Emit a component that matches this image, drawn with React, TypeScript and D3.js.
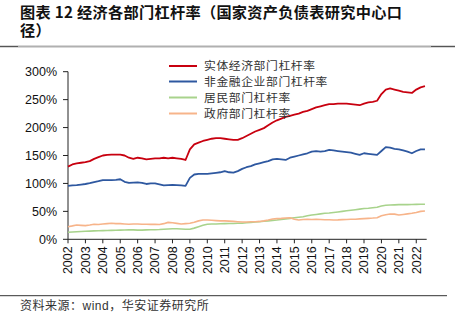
import React from "react";
import * as d3 from "d3";

const startYear = 2002;
const yearTicks = d3.range(2002, 2023);
const yTicks = [0, 50, 100, 150, 200, 250, 300];

const seriesNames = ["实体经济部门杠杆率", "非金融企业部门杠杆率", "居民部门杠杆率", "政府部门杠杆率"];
const seriesColors = ["#C8000F", "#2E58A0", "#A8D38C", "#F7B48A"];

const realEconomy = [
  130, 134, 136, 137, 138, 140, 144, 147, 150, 151, 151.5, 151.5,
  151.5, 150, 146, 144, 146, 145, 143, 144, 145, 145, 146, 145,
  146, 145, 144, 142, 161, 170, 173, 176, 178, 180, 181, 181,
  180, 179, 178, 178, 181, 185, 189, 193, 196, 199, 204, 209,
  213, 216, 219, 221, 223, 225, 228, 230, 233, 236, 238, 240,
  242, 242, 243, 243, 243, 242, 241, 240, 243, 245, 246, 248,
  260, 268, 270, 268, 266, 264, 263, 262, 268, 272, 274,
];
const nonFinancial = [
  95.5, 96.5, 97, 98, 99, 100.5, 102.5, 104, 106, 106, 106, 106.5,
  107.5, 103, 101, 101.5, 102, 101, 99, 100, 100, 98.5, 96.5, 97,
  97.5, 97, 96.5, 95.5, 110, 116, 117, 117, 117, 118, 119, 120,
  122, 120, 119.5, 122, 126, 129, 131, 134, 136, 138, 140, 143,
  144, 143, 142, 146, 148, 150, 152, 154, 157, 158, 157, 158,
  160, 159, 158, 157, 156, 155, 153, 151, 154, 153, 152, 151,
  158, 165, 164, 162, 161, 159, 157, 154, 158, 161, 161,
];
const household = [
  12.5, 13, 13.5, 14, 14.3, 14.6, 15, 15.3, 15.5, 15.8, 16, 16.2,
  16.4, 16.6, 16.8, 16.8, 16.5, 16.5, 16.8, 17, 17.2, 17.5, 18, 18.5,
  19, 18.8, 18.5, 18, 18, 20, 22.5, 25, 27, 27.5, 27.5, 27.8,
  28, 28.2, 28.4, 28.6, 28.8, 29.5, 30, 31, 31.5, 32.3, 33, 33.8,
  34.5, 35.5, 36.5, 37.5, 38.5, 39.5, 40.5, 42, 43.5, 44.5, 45.5, 46.5,
  47, 48, 49, 50, 51, 52, 53, 54, 55, 55.5, 56.5, 57.5,
  59.5, 61, 61.5, 61.7, 62, 62, 62, 62.2, 62.5, 62.7, 62.7,
];
const government = [
  22.6, 24, 25.6, 25, 24.5, 25.5, 27, 26.5, 27.5, 28, 28.6, 28,
  28, 27.5, 27, 27.5, 27.5, 27, 27, 26.8, 27, 26.5, 28, 30.3,
  29.5, 28.5, 27.5, 28, 28.6, 30.5, 33, 34.5, 34.5, 34, 33.5, 33,
  33, 32.5, 32, 31.5, 31, 31, 31.5, 31.5, 32, 33, 34.5, 36.4,
  37, 37.5, 38.2, 38.7, 36, 34.6, 35.5, 36, 35.5, 35.8, 35.5, 35,
  35, 34.6, 34.8, 35.2, 35.5, 35.8, 36, 36.5, 37, 37.5, 38, 38.7,
  42, 44, 45.3, 45, 43.5, 44.5, 45.5, 46.5, 48, 50, 50.7,
];

const allSeries = [realEconomy, nonFinancial, household, government];

export default function App() {
  const x = d3.scaleLinear().domain([2002, 2022.6]).range([68, 426.7]);
  const y = d3.scaleLinear().domain([0, 300]).range([239.3, 71.7]);
  const line = d3
    .line<number>()
    .x((_, i) => x(startYear + i * 0.25))
    .y((d) => y(d));

  const numFont = "'Liberation Sans', Arial, sans-serif";
  const cjkFont = "'Noto Sans CJK SC', sans-serif";

  return (
    <svg
      width={455}
      height={322}
      style={{ position: "absolute", left: 0, top: 0, background: "#fff" }}
    >
      <rect x={0} y={0} width={455} height={322} fill="#fff" />
      {/* Title */}
      <text x={20} y={17.5} fontFamily={cjkFont} fontWeight="bold" fontSize={15.2} fill="#111" letterSpacing={0.3}>
        图表 12 经济各部门杠杆率（国家资产负债表研究中心口
      </text>
      <text x={20} y={36} fontFamily={cjkFont} fontWeight="bold" fontSize={15.2} fill="#111" letterSpacing={0.3}>
        径）
      </text>
      <line x1={0} x2={455} y1={46.5} y2={46.5} stroke="#b0b0b0" strokeWidth={2} />
      <line x1={0} x2={18} y1={46.5} y2={46.5} stroke="#555" strokeWidth={1} />
      <line x1={431} x2={455} y1={46.5} y2={46.5} stroke="#555" strokeWidth={1} />

      {/* Y axis */}
      <line x1={68} x2={68} y1={y(300)} y2={y(0)} stroke="#222" strokeWidth={1} />
      {yTicks.map((t) => (
        <g key={t}>
          <line x1={63} x2={68} y1={y(t)} y2={y(t)} stroke="#222" strokeWidth={1} />
          <text
            x={57}
            y={y(t)}
            dy="0.35em"
            textAnchor="end"
            fontFamily={numFont}
            fontSize={12.5}
            fill="#111"
          >
            {t}%
          </text>
        </g>
      ))}

      {/* X axis */}
      <line x1={68} x2={426.7} y1={y(0)} y2={y(0)} stroke="#222" strokeWidth={1} />
      {yearTicks.map((yr) => (
        <g key={yr}>
          <line x1={x(yr)} x2={x(yr)} y1={y(0)} y2={y(0) + 4} stroke="#222" strokeWidth={1} />
          <text
            transform={`translate(${x(yr)},${y(0) + 7}) rotate(-90)`}
            textAnchor="end"
            dy="0.35em"
            fontFamily={numFont}
            fontSize={12.5}
            fill="#111"
          >
            {yr}
          </text>
        </g>
      ))}

      {/* Lines */}
      {allSeries.map((s, i) => (
        <path
          key={i}
          d={line(s) || ""}
          fill="none"
          stroke={seriesColors[i]}
          strokeWidth={i < 2 ? 1.8 : 1.6}
          strokeLinejoin="round"
        />
      ))}

      {/* Legend */}
      {seriesNames.map((n, i) => {
        const ly = [66, 81.5, 97.5, 113.5][i];
        return (
          <g key={n}>
            <line x1={169} x2={197} y1={ly} y2={ly} stroke={seriesColors[i]} strokeWidth={2} />
            <text
              x={204}
              y={ly}
              dy="0.35em"
              fontFamily={cjkFont}
              fontSize={11.8}
              fill="#333"
              letterSpacing={0.6}
            >
              {n}
            </text>
          </g>
        );
      })}

      {/* Source */}
      <line x1={0} x2={447} y1={295.7} y2={295.7} stroke="#333" strokeWidth={1} />
      <text x={20} y={306} dy="0.35em" fontFamily={cjkFont} fontSize={12} fill="#333" letterSpacing={0.5}>
        资料来源：
        <tspan fontFamily={numFont}>wind</tspan>
        ，华安证券研究所
      </text>
    </svg>
  );
}
